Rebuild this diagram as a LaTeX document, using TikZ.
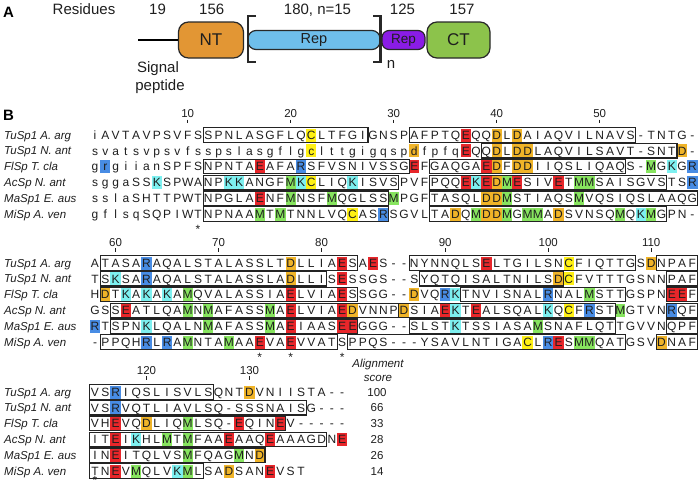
\documentclass[tikz,border=0pt]{standalone}
\usepackage{fontspec}
\setmainfont{Liberation Sans}
\definecolor{cE}{RGB}{232,38,42}
\definecolor{cD}{RGB}{240,180,40}
\definecolor{cC}{RGB}{255,240,20}
\definecolor{cR}{RGB}{72,140,228}
\definecolor{cK}{RGB}{125,240,240}
\definecolor{cM}{RGB}{135,228,95}
\definecolor{txt}{RGB}{30,30,30}
\definecolor{boxc}{RGB}{35,35,35}
\definecolor{ntor}{RGB}{226,150,52}
\definecolor{repb}{RGB}{110,190,235}
\definecolor{repp}{RGB}{138,28,230}
\definecolor{ctg}{RGB}{140,195,75}
\definecolor{domb}{RGB}{40,40,40}
\newcommand\seqrow[3]{\foreach \ch [count=\i] in {#3}{\node[res] (#1-\i) at ({95+(\i-1)*10.3},{#2+4.2}) {\ch};}}
\newcommand\hl[2]{\foreach \cc/\kk in {#2}{\fill[\kk] ({95+(\cc-1)*10.3-5.15},{#1-6.5}) rectangle ({95+(\cc-1)*10.3+5.15},{#1+6.5});}}
\newcommand\bx[3]{\draw[sbox] ({95+(#2-1)*10.3-5.15},{#1-7.2}) rectangle ({95+(#3-1)*10.3+5.15},{#1+7.2});}
\newcommand\labs[7]{%
\node[lab] (#1-l1) at (4,{#2+4.1}) {TuSp1 A. arg};
\node[lab] (#1-l2) at (4,{#3+4.1}) {TuSp1 N. ant};
\node[lab] (#1-l3) at (4,{#4+4.1}) {FlSp T. cla};
\node[lab] (#1-l4) at (4,{#5+4.1}) {AcSp N. ant};
\node[lab] (#1-l5) at (4,{#6+4.1}) {MaSp1 E. aus};
\node[lab] (#1-l6) at (4,{#7+4.1}) {MiSp A. ven};}
\begin{document}
\begin{tikzpicture}[x=1pt,y=-1pt,
  res/.style={anchor=base,inner sep=0pt,font=\fontsize{12}{13}\selectfont,text=txt},
  lab/.style={anchor=base west,inner sep=0pt,font=\fontsize{11.5}{13}\selectfont\itshape,text=txt},
  num/.style={anchor=base,inner sep=0pt,font=\fontsize{11.5}{13}\selectfont,text=txt},
  tickl/.style={line width=0.9pt,draw=txt},
  sbox/.style={draw=boxc,line width=1.1pt},
  dom/.style={draw=domb,line width=1.2pt,inner sep=0pt,text=txt},
  big/.style={anchor=base,inner sep=0pt,font=\fontsize{15}{17}\selectfont,text=txt},
  brk/.style={draw=domb,line width=2.8pt},
  panel/.style={anchor=base west,inner sep=0pt,font=\fontsize{15}{17}\selectfont\bfseries,text=black}]
\useasboundingbox (0,0) rectangle (700,485);
% ---------------- panel A
\node[panel] (pA) at (3,17.5) {A};
\node[big] (res) at (84,14) {Residues};
\node[big] (r19) at (157.5,14) {19};
\node[big] (r156) at (211.7,14) {156};
\node[big] (r180) at (317.5,14) {180, n=15};
\node[big] (r125) at (402.5,14) {125};
\node[big] (r157) at (462,14) {157};
\node[dom,fill=ntor,rounded corners=10pt,minimum width=65pt,minimum height=36pt,font=\fontsize{17}{19}\selectfont] (nt) at (211,40) {NT};
\node[dom,fill=repb,rounded corners=8pt,minimum width=132pt,minimum height=19pt,font=\fontsize{14.5}{16}\selectfont] (rep) at (314,40) {Rep};
\node[dom,fill=repp,rounded corners=7pt,minimum width=43pt,minimum height=19pt,font=\fontsize{13.5}{15}\selectfont] (prep) at (403.5,40) {Rep};
\node[dom,fill=ctg,rounded corners=10pt,minimum width=63pt,minimum height=36pt,font=\fontsize{17}{19}\selectfont] (ct) at (458.5,40) {CT};
\coordinate (sig) at (138,40);
\draw[line width=2.8pt,draw=black] (sig) -- (nt.west);
\draw[brk] (256,16) -- (248,16) -- (248,62) -- (256,62);
\draw[brk] (373,16) -- (380.5,16) -- (380.5,62) -- (373,62);
\node[big] (nn) at (391,68) {n};
\node[big] (sg1) at (158,72) {Signal};
\node[big] (sg2) at (160,90) {peptide};
% ---------------- panel B
\node[panel] (pB) at (3,120) {B};
% block 1
\foreach \c/\v in {10/10,20/20,30/30,40/40,50/50}{
  \node[num] (t\v) at ({95+(\c-1)*10.3},117) {\v};
  \draw[tickl] ({95+(\c-1)*10.3},119.5) -- ++(0,3.5);}
\labs{b1}{135}{150.8}{166.6}{182.4}{198.2}{214}
\hl{135}{22/cC,37/cE,40/cD,42/cD}
\hl{150.8}{22/cC,32/cD,37/cE,40/cD,42/cD,43/cD,58/cD}
\hl{166.6}{2/cR,17/cE,21/cR,32/cE,39/cE,40/cD,42/cD,43/cD,55/cM,57/cK,59/cR}
\hl{182.4}{7/cK,14/cK,15/cK,20/cM,21/cK,22/cC,26/cK,37/cE,38/cK,39/cE,40/cD,41/cM,42/cE,46/cE,48/cM,49/cM,59/cR}
\hl{198.2}{17/cE,20/cM,24/cM,30/cM,39/cD,40/cD,41/cM,48/cM}
\hl{214}{17/cM,19/cM,26/cC,29/cR,36/cD,38/cM,39/cD,40/cD,41/cM,43/cM,44/cM,46/cD,52/cM,54/cK,55/cM}
\seqrow{a1}{135}{i,A,V,T,A,V,P,S,V,F,S,S,P,N,L,A,S,G,F,L,Q,C,L,T,F,G,I,G,N,S,P,A,F,P,T,Q,E,Q,Q,D,L,D,A,I,A,Q,V,I,L,N,A,V,S,-,T,N,T,G,-}
\seqrow{a2}{150.8}{s,v,a,t,s,v,p,s,v,f,s,s,p,s,l,a,s,g,f,l,g,c,l,t,t,g,i,g,q,s,p,d,f,p,f,q,E,Q,Q,D,L,D,D,L,A,Q,V,I,L,S,A,V,T,-,S,N,T,D,-}
\seqrow{a3}{166.6}{g,r,g,i,i,a,n,S,P,F,S,N,P,N,T,A,E,A,F,A,R,S,F,V,S,N,I,V,S,S,G,E,F,G,A,Q,G,A,E,D,F,D,D,I,I,Q,S,L,I,Q,A,Q,S,-,M,G,K,G,R}
\seqrow{a4}{182.4}{s,g,g,a,S,S,K,S,P,W,A,N,P,K,K,A,N,G,F,M,K,C,L,I,Q,K,I,S,V,S,P,V,F,P,Q,Q,E,K,E,D,M,E,S,I,V,E,T,M,M,S,A,I,S,G,V,S,T,S,R}
\seqrow{a5}{198.2}{s,s,l,a,S,H,T,T,P,W,T,N,P,G,L,A,E,N,F,M,N,S,F,M,Q,G,L,S,S,M,P,G,F,T,A,S,Q,L,D,D,M,S,T,I,A,Q,S,M,V,Q,S,I,Q,S,L,A,A,Q,G}
\seqrow{a6}{214}{g,f,l,s,q,S,Q,P,I,W,T,N,P,N,A,A,M,T,M,T,N,N,L,V,Q,C,A,S,R,S,G,V,L,T,A,D,Q,M,D,D,M,G,M,M,A,D,S,V,N,S,Q,M,Q,K,M,G,P,N,-}
\bx{135}{12}{27}\bx{135}{32}{53}
\bx{150.8}{39}{57}
\bx{166.6}{12}{31}\bx{166.6}{34}{52}
\bx{182.4}{12}{30}\bx{182.4}{34}{56}
\bx{198.2}{12}{29}\bx{198.2}{34}{59}
\bx{214}{12}{29}\bx{214}{34}{56}
\foreach \c in {11}{\node[res] (s1-\c) at ({95+(\c-1)*10.3},233.6) {*};}
% block 2
\foreach \c/\v in {3/60,13/70,23/80,35/90,45/100,55/110}{
  \node[num] (t\v) at ({95+(\c-1)*10.3},246) {\v};
  \draw[tickl] ({95+(\c-1)*10.3},248) -- ++(0,3.5);}
\labs{b2}{263}{278.8}{294.6}{310.4}{326.2}{342}
\hl{263}{6/cR,20/cD,25/cE,28/cE,39/cE,47/cC,55/cD}
\hl{278.8}{3/cK,6/cR,20/cD,25/cE,46/cD,47/cC}
\hl{294.6}{2/cD,4/cK,6/cK,8/cK,10/cM,20/cE,25/cE,32/cD,35/cR,36/cK,45/cR,49/cM,57/cE,58/cE}
\hl{310.4}{4/cE,10/cM,12/cM,18/cM,20/cE,25/cE,26/cD,31/cD,35/cE,36/cK,38/cE,45/cK,47/cC,49/cR,52/cM,57/cR}
\hl{326.2}{1/cR,6/cK,12/cM,18/cM,20/cE,25/cE,26/cE,36/cK,44/cM}
\hl{342}{6/cR,8/cR,10/cM,14/cM,17/cE,20/cE,43/cC,45/cR,46/cE,48/cM,49/cM,56/cD}
\seqrow{c1}{263}{A,T,A,S,A,R,A,Q,A,L,S,T,A,L,A,S,S,L,T,D,L,L,I,A,E,S,A,E,S,-,-,N,Y,N,N,Q,L,S,E,L,T,G,I,L,S,N,C,F,I,Q,T,T,G,S,D,N,P,A,F}
\seqrow{c2}{278.8}{T,S,K,S,A,R,A,Q,A,L,S,T,A,L,A,S,S,L,A,D,L,L,I,S,E,S,S,G,S,-,-,S,Y,Q,T,Q,I,S,A,L,T,N,I,L,S,D,C,F,V,T,T,T,G,S,N,N,P,A,F}
\seqrow{c3}{294.6}{H,D,T,K,A,K,A,K,A,M,Q,V,A,L,A,S,S,I,A,E,L,V,I,A,E,S,S,G,G,-,-,D,V,Q,R,K,T,N,V,I,S,N,A,L,R,N,A,L,M,S,T,T,G,S,P,N,E,E,F}
\seqrow{c4}{310.4}{G,S,S,E,A,T,L,Q,A,M,N,M,A,F,A,S,S,M,A,E,L,V,I,A,E,D,V,N,N,P,D,S,I,A,E,K,T,E,A,L,S,Q,A,L,K,Q,C,F,R,S,T,M,G,T,V,N,R,Q,F}
\seqrow{c5}{326.2}{R,T,S,P,N,K,L,Q,A,L,N,M,A,F,A,S,S,M,A,E,I,A,A,S,E,E,G,G,G,-,-,S,L,S,T,K,T,S,S,I,A,S,A,M,S,N,A,F,L,Q,T,T,G,V,V,N,Q,P,F}
\seqrow{c6}{342}{-,P,P,Q,H,R,L,R,A,M,N,T,A,M,A,A,E,V,A,E,V,V,A,T,S,P,P,Q,S,-,-,-,Y,S,A,V,L,N,T,I,G,A,C,L,R,E,S,M,M,Q,A,T,G,S,V,D,N,A,F}
\bx{263}{2}{26}\bx{263}{32}{53}\bx{263}{56}{59}
\bx{278.8}{2}{23}\bx{278.8}{33}{46}\bx{278.8}{57}{59}
\bx{294.6}{2}{26}\bx{294.6}{37}{52}\bx{294.6}{57}{59}
\bx{310.4}{3}{30}\bx{310.4}{31}{51}\bx{310.4}{57}{59}
\bx{326.2}{3}{26}\bx{326.2}{32}{51}\bx{326.2}{57}{59}
\bx{342}{2}{24}\bx{342}{26}{52}\bx{342}{56}{59}
\foreach \c in {17,20,25}{\node[res] (s2-\c) at ({95+(\c-1)*10.3},361.6) {*};}
\node[res,font=\fontsize{11.5}{13}\selectfont\itshape] (als1) at (378,367) {Alignment};
\node[res,font=\fontsize{11.5}{13}\selectfont\itshape] (als2) at (378,381) {score};
% block 3
\foreach \c/\v in {6/120,16/130}{
  \node[num] (t\v) at ({95+(\c-1)*10.3},374) {\v};
  \draw[tickl] ({95+(\c-1)*10.3},376) -- ++(0,3.5);}
\labs{b3}{392}{407.8}{423.6}{439.4}{455.2}{471}
\hl{392}{3/cR,16/cD}
\hl{407.8}{3/cR}
\hl{423.6}{3/cE,6/cD,10/cM,15/cE,19/cE}
\hl{439.4}{3/cE,5/cK,8/cM,10/cM,14/cE,18/cE,25/cE}
\hl{455.2}{3/cE,10/cM,15/cM,17/cD}
\hl{471}{3/cE,5/cM,9/cK,10/cM,14/cD,18/cE}
\seqrow{d1}{392}{V,S,R,I,Q,S,L,I,S,V,L,S,Q,N,T,D,V,N,I,I,S,T,A,-,-}
\seqrow{d2}{407.8}{V,S,R,V,Q,T,L,I,A,V,L,S,Q,-,S,S,S,N,A,I,S,G,-,-,-}
\seqrow{d3}{423.6}{V,H,E,V,Q,D,L,I,Q,M,L,S,Q,-,E,Q,I,N,E,V,-,-,-,-,-}
\seqrow{d4}{439.4}{I,T,E,I,K,H,L,M,T,M,F,A,A,E,A,A,Q,E,A,A,A,G,D,N,E}
\seqrow{d5}{455.2}{I,N,E,I,T,Q,L,V,S,M,F,Q,A,G,M,N,D}
\seqrow{d6}{471}{T,N,E,V,M,Q,L,V,K,M,L,S,A,D,S,A,N,E,V,S,T}
\bx{392}{1}{12}
\bx{407.8}{1}{21}
\bx{423.6}{1}{19}
\bx{439.4}{1}{23}
\bx{455.2}{1}{17}
\bx{471}{1}{11}
\foreach \c in {1}{\node[res] (s3-\c) at ({95+(\c-1)*10.3},484) {*};}
\foreach \s/\y [count=\k] in {100/392,66/407.8,33/423.6,28/439.4,26/455.2,14/471}{
  \node[res,font=\fontsize{11.5}{13}\selectfont] (sc\k) at (377,{\y+4.1}) {\s};}
\end{tikzpicture}
\end{document}
